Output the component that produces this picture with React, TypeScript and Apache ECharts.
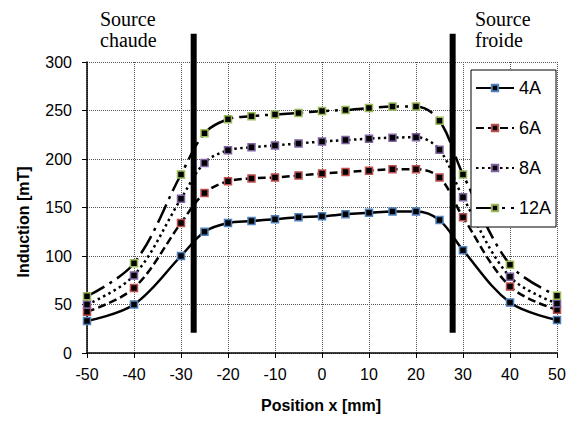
import React, { useEffect, useRef } from "react";
import * as echarts from "echarts";

const positions = [-50, -40, -30, -25, -20, -15, -10, -5, 0, 5, 10, 15, 20, 25, 30, 40, 50];
const seriesNames = ["4A", "6A", "8A", "12A"];
const values4A = [33, 50, 100, 125, 134, 136, 138, 140, 141, 143, 144.5, 146, 146, 137, 106, 52, 34];
const values6A = [42.5, 67, 134, 165, 177, 180, 181, 183, 185, 186.5, 188, 189.5, 189.5, 181, 140, 68.5, 44.5];
const values8A = [50, 80, 159, 196, 209, 212, 214, 216, 218, 219.5, 221, 222, 222.5, 209.5, 160.5, 78.5, 51];
const values12A = [58.5, 92.5, 184, 226.5, 241, 244, 246, 247.5, 249.5, 250.5, 252.5, 254, 254, 239.5, 184, 91, 59];
const sourcePositions = [-27.3, 27.8];
const sourceRange = [21, 329];
const sourceLabels = ["Source\nchaude", "Source\nfroide"];
const xTitle = "Position x [mm]";
const yTitle = "Induction [mT]";

const SANS = 'Arial, "Liberation Sans", sans-serif';
const SERIF = '"Times New Roman", "Liberation Serif", serif';

const styles = [
  { border: "#4F81BD", type: "solid" as any },
  { border: "#C0504D", type: [8, 4] as any },
  { border: "#8064A2", type: [2.5, 3.5] as any },
  { border: "#9BBB59", type: [20, 6, 3, 6] as any },
];

export default function App() {
  const ref = useRef<HTMLDivElement>(null);
  useEffect(() => {
    if (!ref.current) return;
    const chart = echarts.init(ref.current, undefined, { renderer: "svg" });
    const all = [values4A, values6A, values8A, values12A];
    const dataSeries = all.map((vals, i) => ({
      name: seriesNames[i],
      type: "line",
      smooth: 0.35,
      data: positions.map((p, j) => [p, vals[j]]),
      symbol: "rect",
      symbolSize: 7,
      itemStyle: { color: "#000", borderColor: styles[i].border, borderWidth: 1.5 },
      lineStyle: { color: "#000", width: 2.5, type: styles[i].type },
      z: 2,
    }));
    const barSeries = sourcePositions.map((p, i) => ({
      name: "src" + i,
      type: "line",
      data: [
        [p, sourceRange[0]],
        [p, sourceRange[1]],
      ],
      symbol: "none",
      clip: false,
      silent: true,
      lineStyle: { color: "#000", width: 6, cap: "butt" },
      z: 5,
    }));
    chart.setOption({
      animation: false,
      backgroundColor: "#fff",
      grid: { left: 87, right: 20, top: 62, bottom: 79 },
      xAxis: {
        type: "value",
        min: -50,
        max: 50,
        interval: 10,
        axisLine: { show: true, onZero: false, lineStyle: { color: "#000", width: 1.5 } },
        axisTick: { show: true, length: 5, lineStyle: { color: "#000" } },
        axisLabel: { color: "#000", fontSize: 16, fontFamily: SANS, margin: 13 },
        splitLine: { show: true, lineStyle: { color: "#555", type: [1, 1], width: 1 } },
      },
      yAxis: {
        type: "value",
        min: 0,
        max: 300,
        interval: 50,
        axisLine: { show: true, onZero: false, lineStyle: { color: "#000", width: 1.5 } },
        axisTick: { show: true, length: 5, lineStyle: { color: "#000" } },
        axisLabel: { color: "#000", fontSize: 16, fontFamily: SANS, margin: 15 },
        splitLine: { show: true, lineStyle: { color: "#555", type: [1, 1], width: 1 } },
      },
      legend: {
        data: seriesNames,
        orient: "vertical",
        left: 471,
        top: 70,
        padding: [9, 5, 10, 4],
        itemGap: 22,
        itemWidth: 38,
        itemHeight: 8,
        borderColor: "#000",
        borderWidth: 1,
        backgroundColor: "#fff",
        textStyle: { fontSize: 18, fontFamily: SANS, color: "#000" },
      },
      graphic: [
        {
          type: "text",
          left: 100,
          top: 8,
          style: { text: sourceLabels[0], font: `20px ${SERIF}`, fill: "#000", lineHeight: 21 },
        },
        {
          type: "text",
          left: 475,
          top: 8,
          style: { text: sourceLabels[1], font: `20px ${SERIF}`, fill: "#000", lineHeight: 21 },
        },
        {
          type: "text",
          x: 23,
          y: 222,
          rotation: Math.PI / 2,
          style: { text: yTitle, font: `bold 16px ${SANS}`, fill: "#000", align: "center", verticalAlign: "middle" },
        },
        {
          type: "text",
          x: 321,
          y: 405,
          style: { text: xTitle, font: `bold 16px ${SANS}`, fill: "#000", align: "center", verticalAlign: "middle" },
        },
      ],
      series: [...dataSeries, ...barSeries],
    });
    return () => chart.dispose();
  }, []);
  return <div ref={ref} style={{ position: "absolute", left: 0, top: 0, width: 577, height: 432 }} />;
}
